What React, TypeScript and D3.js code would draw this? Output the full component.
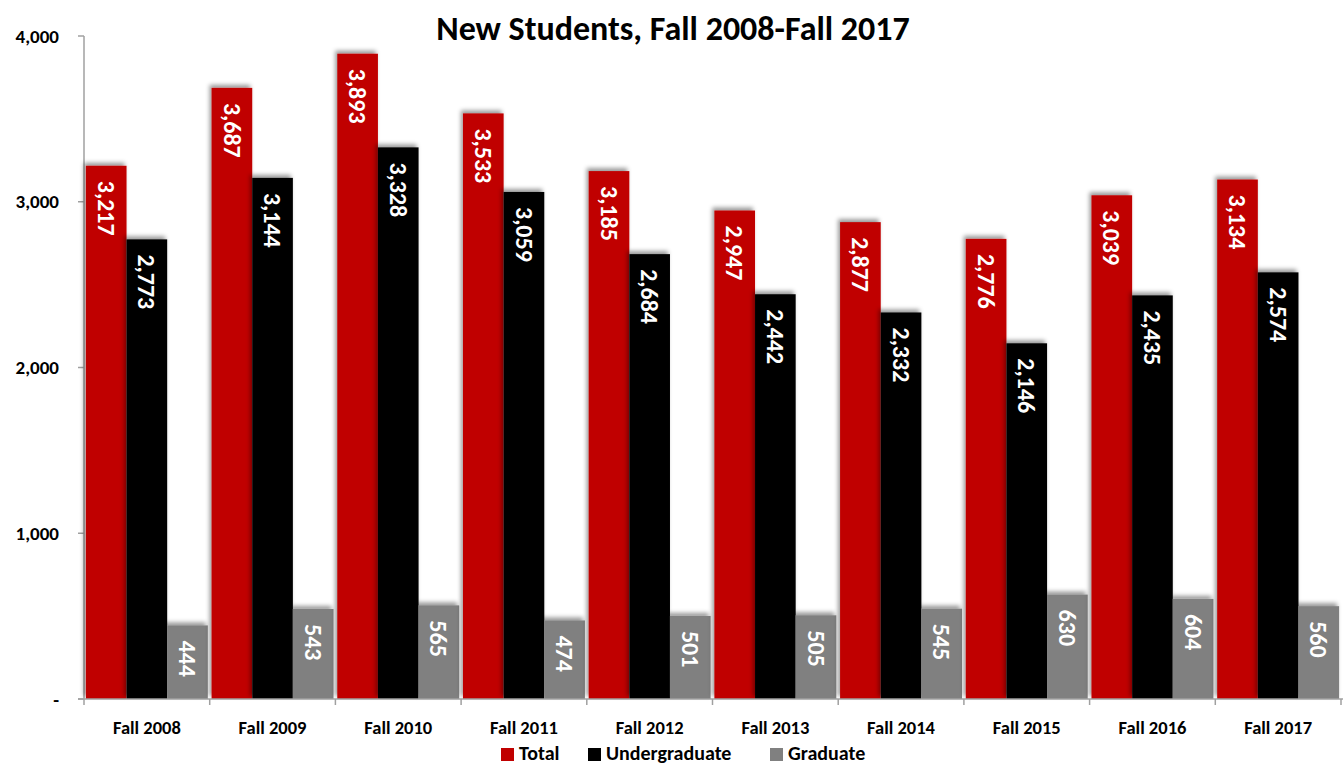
import React, { useEffect, useRef } from "react";
import * as d3 from "d3";

const categories = ["Fall 2008", "Fall 2009", "Fall 2010", "Fall 2011", "Fall 2012", "Fall 2013", "Fall 2014", "Fall 2015", "Fall 2016", "Fall 2017"];
const totalValues = [3217, 3687, 3893, 3533, 3185, 2947, 2877, 2776, 3039, 3134];
const undergradValues = [2773, 3144, 3328, 3059, 2684, 2442, 2332, 2146, 2435, 2574];
const gradValues = [444, 543, 565, 474, 501, 505, 545, 630, 604, 560];
const seriesNames = ["Total", "Undergraduate", "Graduate"];
const seriesColors = ["#C00000", "#000000", "#808080"];
const yTicks = [0, 1000, 2000, 3000, 4000];

const FONT = "Carlito, Lato, 'Open Sans', sans-serif";

const App: React.FC = () => {
  const ref = useRef<SVGSVGElement | null>(null);

  useEffect(() => {
    document.body.style.margin = "0";
    if (!ref.current) return;
    const svg = d3.select(ref.current);
    svg.selectAll("*").remove();

    const width = 1343;
    const margin = { left: 84, right: 2, top: 36, bottom: 66 };
    const height = 765;

    const x = d3.scaleBand<string>()
      .domain(categories)
      .range([margin.left, width - margin.right])
      .paddingInner(0.03)
      .paddingOuter(0.015);
    const x1 = d3.scaleBand<string>().domain(seriesNames).range([0, x.bandwidth()]);
    const y = d3.scaleLinear().domain([0, 4000]).range([height - margin.bottom, margin.top]);

    const defs = svg.append("defs");
    const f = defs.append("filter").attr("id", "shadow")
      .attr("x", "-20%").attr("y", "-20%").attr("width", "140%").attr("height", "140%");
    f.append("feDropShadow")
      .attr("dx", -2).attr("dy", -3).attr("stdDeviation", 2)
      .attr("flood-color", "#000").attr("flood-opacity", 0.4);

    // title
    svg.append("text")
      .attr("x", 673).attr("y", 40)
      .attr("text-anchor", "middle")
      .attr("font-family", FONT).attr("font-weight", "bold").attr("font-size", 34)
      .text("New Students, Fall 2008-Fall 2017");

    // y axis
    const yAxis = svg.append("g").attr("transform", `translate(${margin.left},0)`);
    yAxis.append("line")
      .attr("x1", 0).attr("x2", 0).attr("y1", y(4000)).attr("y2", y(0))
      .attr("stroke", "#a0a0a0").attr("stroke-width", 1.5);
    yTicks.forEach(t => {
      yAxis.append("line").attr("x1", -6).attr("x2", 0).attr("y1", y(t)).attr("y2", y(t))
        .attr("stroke", "#a0a0a0").attr("stroke-width", 1.5);
      yAxis.append("text")
        .attr("x", -25).attr("y", y(t)).attr("dy", "0.35em")
        .attr("text-anchor", "end")
        .attr("font-family", FONT).attr("font-weight", "bold").attr("font-size", 19)
        .text(t === 0 ? "-" : d3.format(",")(t));
    });

    const series = [totalValues, undergradValues, gradValues];

    // bars
    const g = svg.append("g");
    categories.forEach((c, i) => {
      series.forEach((vals, s) => {
        const bx = (x(c) ?? 0) + (x1(seriesNames[s]) ?? 0);
        g.append("rect")
          .attr("x", bx).attr("y", y(vals[i]))
          .attr("width", x1.bandwidth()).attr("height", y(0) - y(vals[i]))
          .attr("fill", seriesColors[s])
          .attr("filter", "url(#shadow)");
      });
    });
    categories.forEach((c, i) => {
      series.forEach((vals, s) => {
        const cx = (x(c) ?? 0) + (x1(seriesNames[s]) ?? 0) + x1.bandwidth() / 2;
        const ty = y(vals[i]) + 15;
        g.append("text")
          .attr("transform", `translate(${cx},${ty}) rotate(90)`)
          .attr("dy", "0.35em")
          .attr("text-anchor", "start")
          .attr("fill", "#fff")
          .attr("font-family", FONT).attr("font-weight", "bold").attr("font-size", 24)
          .text(d3.format(",")(vals[i]));
      });
    });

    // x axis
    const xAxis = svg.append("g").attr("transform", `translate(0,${y(0)})`);
    xAxis.append("line")
      .attr("x1", margin.left - 6).attr("x2", width).attr("y1", 0).attr("y2", 0)
      .attr("stroke", "#a0a0a0").attr("stroke-width", 1.5);
    const step = x.step();
    const x0 = (x(categories[0]) ?? 0) - x.paddingInner() * step / 2;
    for (let k = 0; k <= categories.length; k++) {
      const tx = x0 + k * step;
      xAxis.append("line").attr("x1", tx).attr("x2", tx).attr("y1", 0).attr("y2", 6)
        .attr("stroke", "#a0a0a0").attr("stroke-width", 1.5);
    }
    categories.forEach(c => {
      xAxis.append("text")
        .attr("x", (x(c) ?? 0) + x.bandwidth() / 2).attr("y", 35)
        .attr("text-anchor", "middle")
        .attr("font-family", FONT).attr("font-weight", "bold").attr("font-size", 18.5)
        .text(c);
    });

    // legend
    const legendX = [501, 588, 770];
    seriesNames.forEach((n, s) => {
      svg.append("rect")
        .attr("x", legendX[s]).attr("y", 748).attr("width", 13).attr("height", 13)
        .attr("fill", seriesColors[s]);
      svg.append("text")
        .attr("x", legendX[s] + 18).attr("y", 760)
        .attr("font-family", FONT).attr("font-weight", "bold").attr("font-size", 20)
        .text(n);
    });
  }, []);

  return <svg ref={ref} width={1343} height={765} style={{ display: "block", background: "#fff" }} />;
};

export default App;
